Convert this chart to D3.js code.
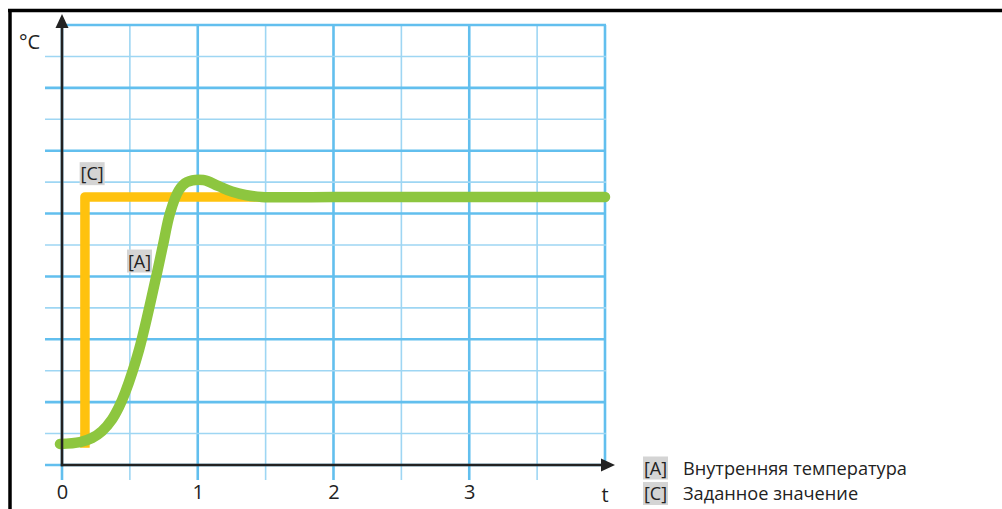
<!DOCTYPE html>
<html><head><meta charset="utf-8">
<script src="https://cdn.jsdelivr.net/npm/d3@7/dist/d3.min.js"></script>
<style>html,body{margin:0;padding:0;background:#fff;}svg{display:block;}</style>
</head><body>
<svg id="c" width="1002" height="509"></svg>
<script>
// ---- data ----
const xTicks = [0, 1, 2, 3];
const xLabel = "t";
const yLabel = "°C";
// [A] internal temperature (time, value in grid units)
const tempTime  = [-0.015, 0.133, 0.221, 0.295, 0.368, 0.42, 0.465, 0.567, 0.693, 0.744, 0.796, 0.862, 0.92, 1.04, 1.15, 1.25, 1.35, 1.47, 2.0, 4.0];
const tempValue = [0.67, 0.73, 0.86, 1.08, 1.45, 1.85, 2.3, 3.66, 5.98, 7.0, 8.02, 8.75, 9.0, 9.07, 8.88, 8.7, 8.59, 8.53, 8.53, 8.53];
// [C] setpoint
const setTime  = [0.169, 0.169, 4.0];
const setValue = [0.55, 8.53, 8.53];
const legendKeys = ["[A]", "[C]"];
const legendNames = ["Внутренняя температура", "Заданное значение"];
const curveLabels = ["[C]", "[A]"];
const curveLabelT = [0.222, 0.571];
const curveLabelV = [9.27, 6.49];

const svg = d3.select("#c");
const x = d3.scaleLinear().domain([0, 4]).range([62, 605]);
const y = d3.scaleLinear().domain([0, 14]).range([465, 25]);
const font = "'Open Sans', sans-serif";
const ink = "#222";

// frame
svg.append("line").attr("x1", 10).attr("x2", 10).attr("y1", 9).attr("y2", 509).attr("stroke", "#000").attr("stroke-width", 3.5);
svg.append("line").attr("x1", 8).attr("x2", 1002).attr("y1", 10.5).attr("y2", 10.5).attr("stroke", "#000").attr("stroke-width", 3.5);

// grid
const g = svg.append("g");
const vLines = d3.range(0, 4.01, 0.5);
vLines.forEach(t => {
  const major = Number.isInteger(t);
  g.append("line").attr("x1", x(t)).attr("x2", x(t))
    .attr("y1", y(14)).attr("y2", t === 4 ? y(0) : y(0) + 15)
    .attr("stroke", major ? "#62bfee" : "#9ed6f3").attr("stroke-width", major ? 2.6 : 1.6);
});
const hLines = d3.range(0, 14.01, 1);
hLines.forEach(v => {
  const major = v % 2 === 0;
  g.append("line").attr("x1", v === 14 ? x(0) : x(0) - 17).attr("x2", x(4) + 1)
    .attr("y1", y(v)).attr("y2", y(v))
    .attr("stroke", major ? "#62bfee" : "#9ed6f3").attr("stroke-width", major ? 2.6 : 1.6);
});

// curves
const line = d3.line().x(d => x(d[0])).y(d => y(d[1]));
svg.append("path").datum(setTime.map((t, i) => [t, setValue[i]]))
  .attr("d", line).attr("fill", "none").attr("stroke", "#ffc20e").attr("stroke-width", 9.5)
  .attr("stroke-linejoin", "round");
svg.append("path").datum(tempTime.map((t, i) => [t, tempValue[i]]))
  .attr("d", line.curve(d3.curveCatmullRom.alpha(0.5))).attr("fill", "none").attr("stroke", "#8dc63f").attr("stroke-width", 10.5)
  .attr("stroke-linecap", "round").attr("stroke-linejoin", "round");

// axes
svg.append("line").attr("x1", x(0)).attr("x2", x(0)).attr("y1", y(0) + 1.2).attr("y2", 26).attr("stroke", ink).attr("stroke-width", 2.6);
svg.append("path").attr("d", `M${x(0)},14 L${x(0) - 6.5},28 L${x(0) + 6.5},28 Z`).attr("fill", ink);
svg.append("line").attr("x1", x(0) - 1.2).attr("x2", 604).attr("y1", y(0)).attr("y2", y(0)).attr("stroke", ink).attr("stroke-width", 2.6);
svg.append("path").attr("d", `M615,${y(0)} L601,${y(0) - 6.5} L601,${y(0) + 6.5} Z`).attr("fill", ink);

const ax = svg.append("g").attr("transform", `translate(0,${y(0)})`)
  .call(d3.axisBottom(x).tickValues(xTicks).tickFormat(d3.format("d")).tickSize(0).tickPadding(20));
ax.select(".domain").remove();
ax.selectAll("text").attr("font-family", font).attr("font-size", 20).attr("fill", ink);

svg.append("text").attr("x", 605).attr("y", 502).attr("text-anchor", "middle")
  .attr("font-family", font).attr("font-size", 20).attr("fill", ink).text(xLabel);
svg.append("text").attr("x", 19).attr("y", 49)
  .attr("font-family", font).attr("font-size", 20).attr("fill", ink).text(yLabel);

// key boxes
function keyBox(cx, cy, txt) {
  svg.append("rect").attr("x", cx - 12.5).attr("y", cy - 11.5).attr("width", 25).attr("height", 23).attr("fill", "#d4d4d4");
  svg.append("text").attr("x", cx).attr("y", cy + 6.5).attr("text-anchor", "middle")
    .attr("font-family", font).attr("font-size", 18).attr("fill", ink).text(txt);
}
curveLabels.forEach((k, i) => keyBox(x(curveLabelT[i]), y(curveLabelV[i]), k));

// legend
legendKeys.forEach((k, i) => {
  const cy = 468 + i * 25.5;
  keyBox(655.5, cy, k);
  svg.append("text").attr("x", 683).attr("y", cy + 6.5).attr("font-family", font).attr("font-size", 18.2).attr("fill", ink)
    .text(legendNames[i]);
});
</script>
</body></html>
